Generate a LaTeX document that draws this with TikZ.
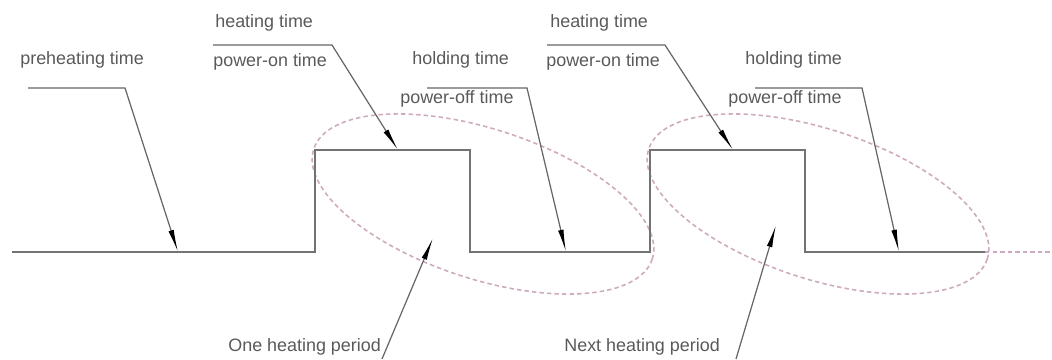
\documentclass[tikz,border=0pt]{standalone}
\usepackage{fontspec}
\setmainfont{Liberation Sans}
\usetikzlibrary{arrows.meta, positioning}
\definecolor{pinkgrey}{RGB}{205,170,190}

\begin{document}
\begin{tikzpicture}[
        x=0.02cm, y=-0.02cm,
        wave/.style={draw=black!55, line width=0.9pt},
        period/.style={draw=pinkgrey, line width=0.9pt, dash pattern=on 2.5pt off 1.8pt},
        leader/.style={draw=black!60, line width=0.7pt},
        arrow/.style={leader, -{Latex[length=4.5mm, width=1.1mm, color=black]}},
        labelnode/.style={font=\fontsize{10.2}{12}\selectfont, text=black!65, inner sep=0pt, anchor=west}
    ]
        \useasboundingbox (0,0) rectangle (1052,359);

        % Heating periods
        \draw[period, rotate around={-18:(483,204)}] (483,204) ellipse [x radius=3.56cm, y radius=1.5cm];
        \draw[period, rotate around={-18:(818,204)}] (818,204) ellipse [x radius=3.56cm, y radius=1.5cm];
        \draw[period] (985,252) -- (1052,252);

        % Waveform
        \draw[wave] (12,252) -- (315,252) -- (315,150) -- (470,150) -- (470,252)
            -- (650,252) -- (650,150) -- (805,150) -- (805,252) -- (985,252);

        % Labels
        \node (preheat) [labelnode] at (20,60) {preheating time};
        \node (heatA) [labelnode] at (215,23) {heating time};
        \node (ponA) [labelnode] at (213,62) {power-on time};
        \node (holdA) [labelnode] at (412,60) {holding time};
        \node (poffA) [labelnode] at (400,99) {power-off time};
        \node (heatB) [labelnode] at (550,23) {heating time};
        \node (ponB) [labelnode] at (546,62) {power-on time};
        \node (holdB) [labelnode] at (745,60) {holding time};
        \node (poffB) [labelnode] at (728,99) {power-off time};
        \node (periodA) [labelnode] at (228,347) {One heating period};
        \node (periodB) [labelnode] at (564,347) {Next heating period};

        % Leader ends
        \coordinate (preL) at (28,88);   \coordinate (preR) at (125,88);  \coordinate (preT) at (178,252);
        \coordinate (heatAL) at (213,45); \coordinate (heatAR) at (332,45); \coordinate (heatAT) at (398,150);
        \coordinate (holdAL) at (427,88); \coordinate (holdAR) at (527,88); \coordinate (holdAT) at (566,252);
        \coordinate (heatBL) at (547,45); \coordinate (heatBR) at (665,45); \coordinate (heatBT) at (733,150);
        \coordinate (holdBL) at (755,88); \coordinate (holdBR) at (862,88); \coordinate (holdBT) at (899,252);
        \coordinate (periodAS) at (382,359); \coordinate (periodAT) at (433,238);
        \coordinate (periodBS) at (736,359); \coordinate (periodBT) at (776,225);

        % Arrows
        \draw[arrow] (preL) -- (preR) -- (preT);
        \draw[arrow] (heatAL) -- (heatAR) -- (heatAT);
        \draw[arrow] (holdAL) -- (holdAR) -- (holdAT);
        \draw[arrow] (heatBL) -- (heatBR) -- (heatBT);
        \draw[arrow] (holdBL) -- (holdBR) -- (holdBT);
        \draw[arrow] (periodAS) -- (periodAT);
        \draw[arrow] (periodBS) -- (periodBT);
    \end{tikzpicture}
\end{document}
